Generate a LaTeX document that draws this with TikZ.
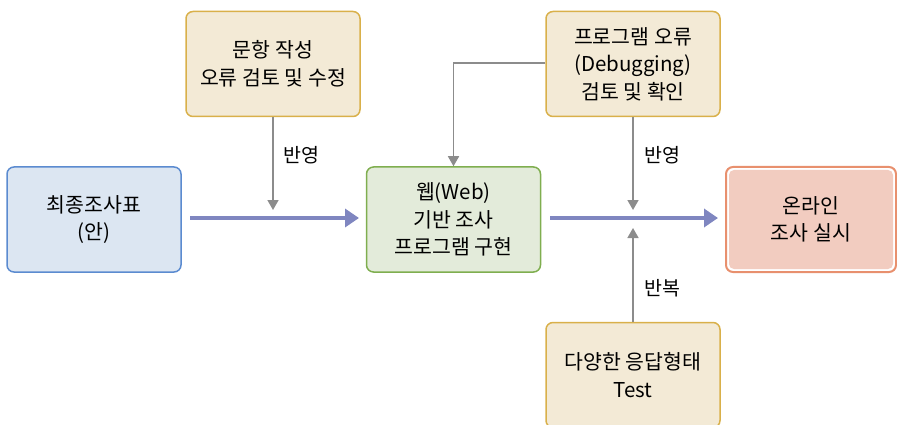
\documentclass[tikz,border=0pt]{standalone}
\usepackage{fontspec}
\setmainfont{Noto Sans CJK KR}
\usetikzlibrary{arrows.meta}
\definecolor{bluefill}{HTML}{DCE6F2}
\definecolor{blueline}{HTML}{5B8BD0}
\definecolor{tanfill}{HTML}{F3EAD6}
\definecolor{tanline}{HTML}{D9B04A}
\definecolor{greenfill}{HTML}{E3EBDA}
\definecolor{greenline}{HTML}{7FAE4F}
\definecolor{pinkfill}{HTML}{F2CCC0}
\definecolor{pinkline}{HTML}{E8906E}
\definecolor{bigarrow}{HTML}{7F86C0}
\definecolor{grayarrow}{HTML}{8C8C8C}
\tikzset{
  box/.style={rounded corners=7pt, line width=1.5pt, minimum width=174pt, minimum height=105pt,
    align=center, font=\fontsize{20.5}{27.5}\selectfont, inner sep=0pt},
  bluebox/.style={box, draw=blueline, fill=bluefill},
  tanbox/.style={box, draw=tanline, fill=tanfill},
  greenbox/.style={box, draw=greenline, fill=greenfill},
  flow/.style={line width=4.5pt, draw=bigarrow, -{Triangle[length=14pt,width=18pt]}},
  feed/.style={line width=1.6pt, draw=grayarrow, -{Triangle[length=10pt,width=11pt]}},
  lbl/.style={font=\fontsize{19.5}{22}\selectfont, anchor=west}
}
\begin{document}
\begin{tikzpicture}[x=1pt,y=-1pt]
\useasboundingbox (0,0) rectangle (897,425);
\node[bluebox] (plan) at (94,219.5) {\fontsize{20.5}{31}\selectfont 최종조사표\\(안)};
\node[tanbox] (item) at (273,64) {문항 작성\\오류 검토 및 수정};
\node[greenbox] (web) at (453.5,219.5) {웹(Web)\\기반 조사\\프로그램 구현};
\node[tanbox] (debug) at (633,64) {프로그램 오류\\(Debugging)\\검토 및 확인};
\node[box, draw=pinkline, line width=2pt, fill=white, minimum width=170pt] (online) at (811,219.5) {};
\node[box, fill=pinkfill, rounded corners=5pt, minimum width=164pt, minimum height=99pt] (onlinein) at (811,219.5) {온라인\\조사 실시};
\node[tanbox] (test) at (633,375) {다양한 응답형태\\Test};
\coordinate (f1s) at (190,218);
\coordinate (f1e) at (359,218);
\coordinate (f2s) at (550,218);
\coordinate (f2e) at (718,218);
\draw[flow] (f1s) -- (f1e);
\draw[flow] (f2s) -- (f2e);
\coordinate (a1) at (273,210);
\draw[feed] (item.south) -- (a1);
\node[lbl] (l1) at (280,155) {반영};
\coordinate (a2) at (633,210);
\draw[feed] (debug.south) -- (a2);
\node[lbl] (l2) at (641,155) {반영};
\coordinate (a3) at (633,228);
\draw[feed] (test.north) -- (a3);
\node[lbl] (l3) at (641,288) {반복};
\draw[feed] (debug.west |- 0,63) -| (web.north);
\end{tikzpicture}
\end{document}
